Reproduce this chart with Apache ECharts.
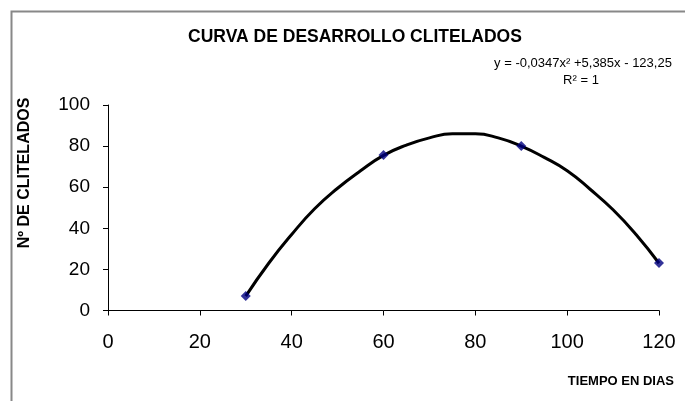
<!DOCTYPE html>
<html>
<head>
<meta charset="utf-8">
<script src="https://cdn.jsdelivr.net/npm/echarts@6/dist/echarts.min.js"></script>
<style>html,body{margin:0;padding:0;background:#fff;}#c{width:685px;height:401px;}</style>
</head>
<body>
<div id="c"></div>
<script>
// Observed data points (days, clitellate count)
const days = [30, 60, 90, 120];
const clitelados = [7.1, 75.7, 80.0, 23.1];
// Trendline at 5-day steps
const trendDays = [30,35,40,45,50,55,60,65,70,75,80,85,90,95,100,105,110,115,120];
const trendValues = [7,23,37,49.5,59.5,68,75.5,80.5,84,86,86,84,80,74.5,68,59,49,37,23];
const xTicks = [0,20,40,60,80,100,120];
const yTicks = [0,20,40,60,80,100];
const titleText = 'CURVA DE DESARROLLO CLITELADOS';
const xName = 'TIEMPO EN DIAS';
const yName = 'Nº DE CLITELADOS';
const eqText = 'y = -0,0347x² +5,385x - 123,25';
const r2Text = 'R² = 1';

const FONT = '"Liberation Sans", Arial, sans-serif';
const chart = echarts.init(document.getElementById('c'), null, {renderer: 'canvas'});
chart.setOption({
  backgroundColor: '#fff',
  animation: false,
  grid: {left: 108, right: 26, top: 105, bottom: 90.5, containLabel: false},
  xAxis: {
    type: 'value', min: xTicks[0], max: xTicks[xTicks.length-1], interval: 20,
    axisLine: {lineStyle: {color: '#000', width: 1}},
    axisTick: {show: true, inside: false, length: 5, lineStyle: {color: '#000'}},
    axisLabel: {color: '#000', fontSize: 20, fontFamily: FONT, margin: 22},
    splitLine: {show: false}
  },
  yAxis: {
    type: 'value', min: yTicks[0], max: yTicks[yTicks.length-1], interval: 20,
    axisLine: {show: true, lineStyle: {color: '#000', width: 1}},
    axisTick: {show: true, inside: false, length: 5, lineStyle: {color: '#000'}},
    axisLabel: {color: '#000', fontSize: 19, fontFamily: FONT, margin: 18},
    splitLine: {show: false}
  },
  series: [
    {
      type: 'line', name: 'trend', smooth: true, symbol: 'none',
      data: trendDays.map((d, i) => [d, trendValues[i]]),
      lineStyle: {color: '#000', width: 3}, z: 2
    },
    {
      type: 'scatter', name: 'data', symbol: 'diamond', symbolSize: 10,
      data: days.map((d, i) => [d, clitelados[i]]),
      itemStyle: {color: '#00007f'}, z: 3
    }
  ],
  graphic: [
    {type: 'rect', shape: {x: 11.5, y: 11.5, width: 800, height: 500}, style: {fill: 'none', stroke: '#888', lineWidth: 2}, silent: true},
    {type: 'text', x: 355, y: 28, style: {text: titleText, font: 'bold 17.5px ' + FONT, fill: '#000', textAlign: 'center', textVerticalAlign: 'top'}},
    {type: 'text', x: 583, y: 63, style: {text: eqText, font: '13px ' + FONT, fill: '#000', textAlign: 'center', textVerticalAlign: 'middle'}},
    {type: 'text', x: 581, y: 80, style: {text: r2Text, font: '13px ' + FONT, fill: '#000', textAlign: 'center', textVerticalAlign: 'middle'}},
    {type: 'text', x: 674, y: 381, style: {text: xName, font: 'bold 13px ' + FONT, fill: '#000', textAlign: 'right', textVerticalAlign: 'middle'}},
    {type: 'text', x: 25, y: 173, rotation: Math.PI/2, style: {text: yName, font: 'bold 16px ' + FONT, fill: '#000', textAlign: 'center', textVerticalAlign: 'middle'}}
  ]
});
</script>
</body>
</html>
